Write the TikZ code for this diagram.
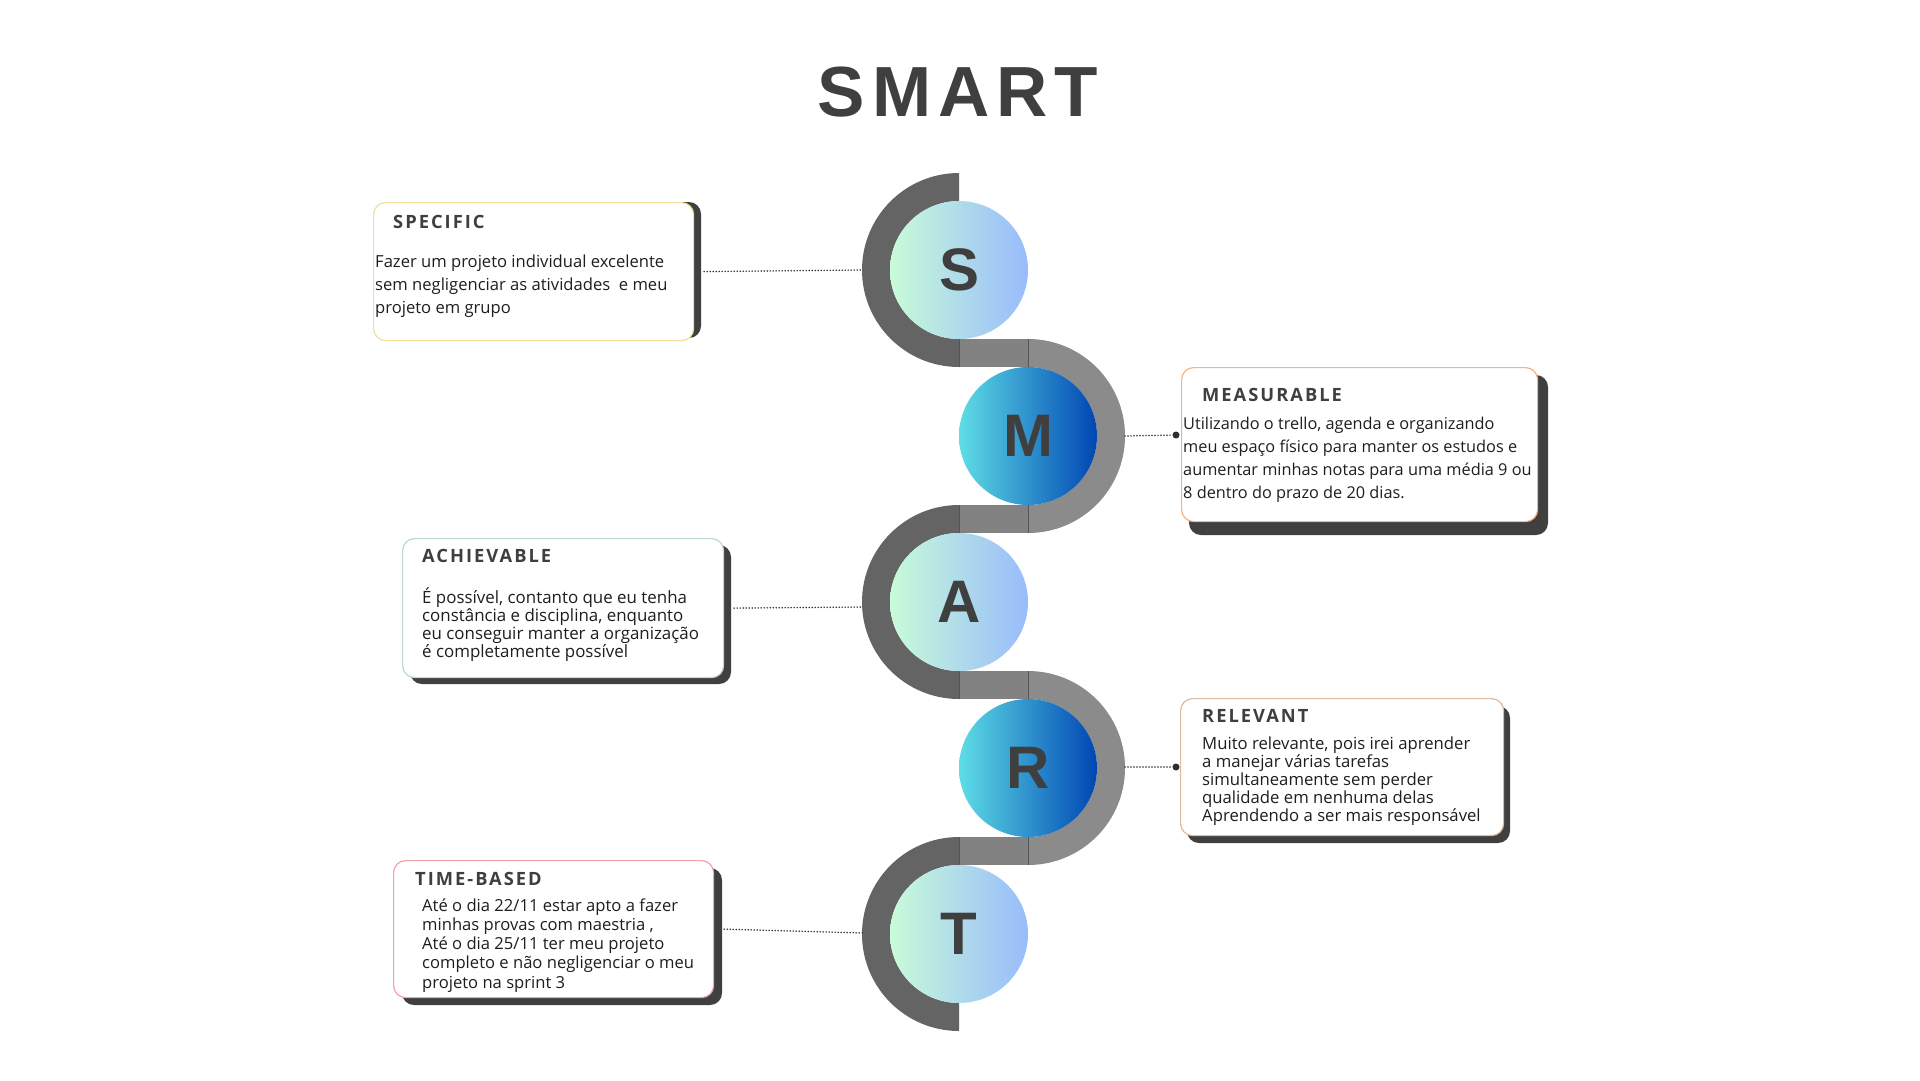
\documentclass[tikz,border=0pt]{standalone}
\usepackage{fontspec}
\setmainfont{Open Sans}
\newfontfamily\headfont[LetterSpace=11]{Open Sans}
\newfontfamily\capsfont{Liberation Sans}

\definecolor{ink}{HTML}{3F3F3F}
\definecolor{bodyink}{HTML}{1E1E1E}
\definecolor{shadowgray}{HTML}{404040}
\definecolor{leaderink}{HTML}{2E2E2E}
\definecolor{arcdark}{HTML}{646464}
\definecolor{arcmid}{HTML}{8B8B8B}
\definecolor{bandgray}{HTML}{828282}
\definecolor{seam}{HTML}{555555}
\definecolor{mintL}{HTML}{C8FBD8}
\definecolor{skyR}{HTML}{98BCFC}
\definecolor{cyanL}{HTML}{5EDDE6}
\definecolor{blueR}{HTML}{0046B3}
\definecolor{yellowB}{HTML}{F2DE9C}
\definecolor{peachB}{HTML}{F6B28E}
\definecolor{tealB}{HTML}{BCD8D2}
\definecolor{tanB}{HTML}{DDBBA0}
\definecolor{pinkB}{HTML}{F2A3A6}

\begin{document}
\begin{tikzpicture}[x=1pt,y=1pt,
  letterball/.style={circle, minimum size=138pt, inner sep=0pt, text=ink,
    font=\capsfont\bfseries\fontsize{60}{60}\selectfont},
  paleball/.style={letterball, left color=mintL, right color=skyR},
  deepball/.style={letterball, left color=cyanL, right color=blueR},
  card/.style={draw=#1, line width=1.2pt, fill=white, rounded corners=12pt,
    inner sep=0pt, anchor=north west},
  cardshadow/.style={fill=shadowgray, rounded corners=12pt},
  cardhead/.style={anchor=base west, inner sep=0pt, text=ink,
    font=\headfont\bfseries\fontsize{18.3}{18.3}\selectfont},
  cardbody/.style={anchor=base west, inner sep=0pt, text=bodyink},
  leader/.style={line width=1.7pt, dash pattern=on 0pt off 3pt, line cap=round, leaderink},
  enddot/.style={circle, fill=leaderink, inner sep=0pt, minimum size=7pt},
]
\useasboundingbox (0,0) rectangle (1920,-1080);
\fill[white] (0,0) rectangle (1920,-1080);

% heading
\node[font=\capsfont\bfseries\fontsize{71}{71}\selectfont, text=ink, anchor=base, inner sep=0pt]
  (title) at (958,-116) {S\kern7pt M\kern7pt A\kern7pt R\kern7pt T};

% winding band behind the letters
\fill[arcdark] (959,-173) arc[start angle=90,end angle=270,radius=97] -- (959,-339)
  arc[start angle=270,end angle=90,radius=69] -- cycle;
\fill[arcmid] (1028,-339) arc[start angle=90,end angle=-90,radius=97] -- (1028,-505)
  arc[start angle=-90,end angle=90,radius=69] -- cycle;
\fill[arcdark] (959,-505) arc[start angle=90,end angle=270,radius=97] -- (959,-671)
  arc[start angle=270,end angle=90,radius=69] -- cycle;
\fill[arcmid] (1028,-671) arc[start angle=90,end angle=-90,radius=97] -- (1028,-837)
  arc[start angle=-90,end angle=90,radius=69] -- cycle;
\fill[arcdark] (959,-837) arc[start angle=90,end angle=270,radius=97] -- (959,-1003)
  arc[start angle=270,end angle=90,radius=69] -- cycle;
\foreach \yy in {339,505,671,837}{
  \fill[bandgray] (959,-\yy) rectangle (1028,-\yy-28);
  \draw[seam, line width=0.8pt] (959,-\yy) -- (959,-\yy-28);
  \draw[seam, line width=0.8pt] (1028,-\yy) -- (1028,-\yy-28);
}

% letter discs
\node[paleball] (s) at (959,-270) {S};
\node[deepball] (m) at (1028,-436) {M};
\node[paleball] (a) at (959,-602) {A};
\node[deepball] (r) at (1028,-768) {R};
\node[paleball] (t) at (959,-934) {T};

% outer edges of the band, where the leaders meet it
\coordinate (sW) at (863,-270);
\coordinate (mE) at (1125,-436);
\coordinate (aW) at (863,-607);
\coordinate (rE) at (1125,-767);
\coordinate (tW) at (863,-933);

% card shadows
\fill[cardshadow] (381,-202) rectangle (701,-338);
\fill[cardshadow] (1189,-375) rectangle (1548,-535);
\fill[cardshadow] (410,-545) rectangle (731,-684);
\fill[cardshadow] (1187,-706) rectangle (1510,-843);
\fill[cardshadow] (402,-868) rectangle (722,-1005);

% cards
\node[card=yellowB, minimum width=320pt, minimum height=138pt] (spec) at (373,-202) {};
\node[card=peachB, minimum width=356pt, minimum height=154pt] (meas) at (1181,-367) {};
\node[card=tealB, minimum width=321pt, minimum height=139pt] (achi) at (402,-538) {};
\node[card=tanB, minimum width=323pt, minimum height=137pt] (rele) at (1180,-698) {};
\node[card=pinkB, minimum width=320pt, minimum height=137pt] (time) at (393,-860) {};

% card headings
\node[cardhead] (specH) at (393,-228) {SPECIFIC};
\node[cardhead] (measH) at (1202,-401) {MEASURABLE};
\node[cardhead] (achiH) at (422,-562) {ACHIEVABLE};
\node[cardhead] (releH) at (1202,-722) {RELEVANT};
\node[cardhead] (timeH) at (415,-885) {TIME-BASED};

% card texts
\node[cardbody] (specT) at (375,-267) {\parbox[t]{330pt}{\raggedright\fontsize{16.6}{23}\selectfont
  Fazer um projeto individual excelente\\
  sem negligenciar as atividades\ \ e meu\\
  projeto em grupo}};
\node[cardbody] (measT) at (1183,-429) {\parbox[t]{370pt}{\raggedright\fontsize{16.3}{23}\selectfont
  Utilizando o trello, agenda e organizando\\
  meu espaço físico para manter os estudos e\\
  aumentar minhas notas para uma média 9 ou\\
  8 dentro do prazo de 20 dias.}};
\node[cardbody] (achiT) at (422,-603) {\parbox[t]{300pt}{\raggedright\fontsize{16.9}{18}\selectfont
  É possível, contanto que eu tenha\\
  constância e disciplina, enquanto\\
  eu conseguir manter a organização\\
  é completamente possível}};
\node[cardbody] (releT) at (1202,-749) {\parbox[t]{300pt}{\raggedright\fontsize{16.7}{18}\selectfont
  Muito relevante, pois irei aprender\\
  a manejar várias tarefas\\
  simultaneamente sem perder\\
  qualidade em nenhuma delas\\
  Aprendendo a ser mais responsável}};
\node[cardbody] (timeT) at (422,-911) {\parbox[t]{300pt}{\raggedright\fontsize{16.6}{19.3}\selectfont
  Até o dia 22/11 estar apto a fazer\\
  minhas provas com maestria ,\\
  Até o dia 25/11 ter meu projeto\\
  completo e não negligenciar o meu\\
  projeto na sprint 3}};

% leaders
\node[enddot] (mdot) at (1176,-435) {};
\node[enddot] (rdot) at (1176,-767) {};
\draw[leader] ([xshift=10pt]spec.east) -- (sW);
\draw[leader] (mE) -- (mdot);
\draw[leader] ([xshift=10pt]achi.east) -- (aW);
\draw[leader] (rE) -- (rdot);
\draw[leader] ([xshift=10pt]time.east) -- (tW);
\end{tikzpicture}
\end{document}
